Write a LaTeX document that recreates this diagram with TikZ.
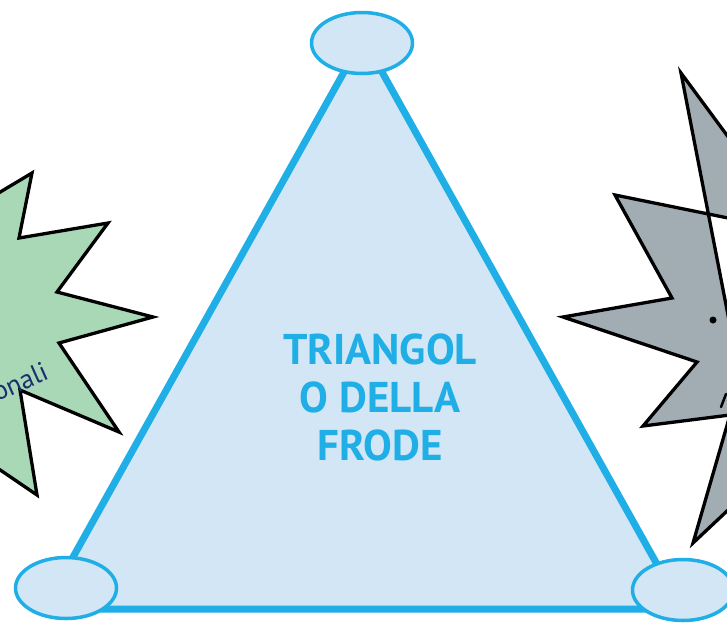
\documentclass[tikz,border=0pt]{standalone}
\usepackage{fontspec}
\setmainfont{PT Sans}
\definecolor{cyanline}{HTML}{1FAEE5}
\definecolor{paleblue}{HTML}{D2E6F5}
\definecolor{stargreen}{HTML}{A8D8B6}
\definecolor{stargray}{HTML}{A2ACB3}
\definecolor{navytext}{HTML}{1B2E6E}
\tikzset{
  starshape/.style={draw=black, line width=3.3pt, line join=miter},
  tri/.style={draw=cyanline, fill=paleblue, line width=7pt, line join=miter},
  corner/.style={ellipse, draw=cyanline, fill=paleblue, line width=3.5pt, minimum width=101pt, minimum height=61pt, inner sep=0pt},
  title/.style={text=cyanline, font=\fontsize{43}{48}\selectfont\bfseries, align=center},
  startext/.style={text=navytext, font=\fontsize{27}{30}\selectfont},
}
\usetikzlibrary{shapes.geometric}
\begin{document}
\begin{tikzpicture}[x=1pt,y=-1pt]
\useasboundingbox (0,0) rectangle (727,622);
\clip (0,0) rectangle (727,622);
% left star (green)
\draw[starshape, fill=stargreen]
  (-60,228) -- (32,173) -- (19,238) -- (108,223) -- (57,292) -- (153,317) -- (59,343)
  -- (119,432) -- (20,390) -- (37,495) -- (-60,429) -- cycle;
\node[startext, rotate=24, anchor=base west, inner sep=0pt] (lefttext) at (-3,402) {onali};
% right star (gray)
\draw[starshape, fill=stargray]
  (681,73) -- (760,180) -- (760,230) -- (728,218) -- (615,195) -- (672,298) -- (563,317) -- (697,362)
  -- (643,426) -- (730,415) -- (693,543) -- (760,480) -- cycle;
\fill (713,320) circle (3.5pt);
\draw[line width=2.5pt, line cap=round] (721,407) -- (726,394);
% triangle
\coordinate (tl) at (44,609);
\coordinate (tr) at (682,609);
\coordinate (tt) at (363,38);
\draw[tri] (tl) -- (tr) -- (tt) -- cycle;
\node[corner] (topc) at (362,43) {};
\node[corner] (leftc) at (66,588) {};
\node[corner] (rightc) at (683,590) {};
\node[title] (label) at (380,397) {TRIANGOL\\O DELLA\\FRODE};
\end{tikzpicture}
\end{document}
